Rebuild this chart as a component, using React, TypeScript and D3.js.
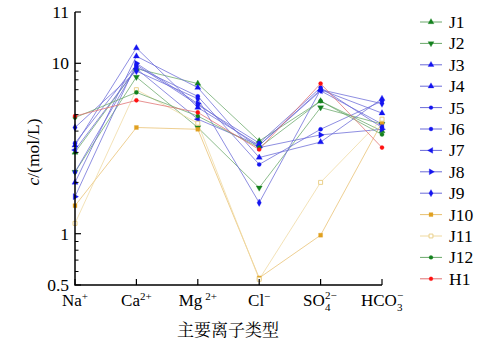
import React from "react";
import * as d3 from "d3";

// ion categories on the x axis
const ions = ["Na", "Ca", "Mg", "Cl", "SO4", "HCO3"];

// concentration per sample, same order as ions
const J1 = [3.0, 9.3, 7.6, 3.5, 6.0, 4.0];
const J2 = [2.3, 8.3, 4.2, 1.86, 5.5, 4.4];
const J3 = [3.3, 12.3, 5.5, 3.3, 7.0, 5.1];
const J4 = [2.0, 11.0, 7.2, 2.8, 3.45, 6.2];
const J5 = [3.4, 9.8, 5.7, 3.4, 7.2, 4.2];
const J6 = [2.3, 9.5, 6.4, 2.55, 4.1, 6.0];
const J7 = [3.1, 9.3, 4.7, 3.3, 6.9, 4.4];
const J8 = [1.65, 10.0, 5.8, 3.2, 3.8, 4.1];
const J9 = [4.2, 9.0, 6.2, 1.52, 7.0, 5.8];
const J10 = [1.46, 4.2, 4.1, 0.55, 0.98, 4.5];
const J11 = [1.15, 7.0, 4.45, 0.54, 2.0, 4.7];
const J12 = [4.8, 6.75, 4.9, 3.2, 6.0, 3.82];
const H1 = [4.9, 6.06, 5.15, 3.12, 7.6, 3.2];

const seriesNames = ["J1", "J2", "J3", "J4", "J5", "J6", "J7", "J8", "J9", "J10", "J11", "J12", "H1"];
const seriesValues = [J1, J2, J3, J4, J5, J6, J7, J8, J9, J10, J11, J12, H1];

// y ticks (the top one is labelled 11 in the original figure)
const yTickValues = [0.5, 1, 10, 20];
const yTickLabels = ["0.5", "1", "10", "11"];
const yMinorTicks = [0.6, 0.7, 0.8, 0.9, 2, 3, 4, 5, 6, 7, 8, 9];

const GREEN = "#14821e";
const BLUE = "#1414f0";
const styles = [
  { color: GREEN, line: "#6aa86a", sym: d3.symbolTriangle, rot: 0, fill: true },
  { color: GREEN, line: "#6aa86a", sym: d3.symbolTriangle, rot: 180, fill: true },
  { color: BLUE, line: "#6a6ad8", sym: d3.symbolTriangle, rot: 0, fill: true },
  { color: BLUE, line: "#6a6ad8", sym: d3.symbolTriangle, rot: 0, fill: true },
  { color: BLUE, line: "#6a6ad8", sym: d3.symbolCircle, rot: 0, fill: true },
  { color: BLUE, line: "#6a6ad8", sym: d3.symbolCircle, rot: 0, fill: true },
  { color: BLUE, line: "#6a6ad8", sym: d3.symbolTriangle, rot: 270, fill: true },
  { color: BLUE, line: "#6a6ad8", sym: d3.symbolTriangle, rot: 90, fill: true },
  { color: BLUE, line: "#6a6ad8", sym: d3.symbolDiamond, rot: 0, fill: true },
  { color: "#e0a020", line: "#e8c070", sym: d3.symbolSquare, rot: 0, fill: true },
  { color: "#e8cc80", line: "#efd9a0", sym: d3.symbolSquare, rot: 0, fill: false },
  { color: GREEN, line: "#6aa86a", sym: d3.symbolCircle, rot: 0, fill: true },
  { color: "#ff1010", line: "#e07070", sym: d3.symbolCircle, rot: 0, fill: true },
];

const width = 492;
const height = 343;
const serif = { fontFamily: "Liberation Serif" };

const x = d3.scalePoint().domain(ions).range([75, 382]).padding(0);
const y = d3.scaleLog().domain([0.5, 20]).range([285, 12]);
const line = d3
  .line<number>()
  .x((d, i) => x(ions[i]))
  .y((d) => y(d));

const Marker = ({ st, cx, cy, size }) => (
  <path
    d={d3.symbol().type(st.sym).size(size)()}
    transform={`translate(${cx},${cy}) rotate(${st.rot})`}
    fill={st.fill ? st.color : "white"}
    stroke={st.color}
    strokeWidth={st.fill ? 0.3 : 0.9}
  />
);

const base = 306;

const App = () => {
  return (
    <svg width={width} height={height} style={{ position: "absolute", left: 0, top: 0, background: "#fff" }}>
      {/* lines */}
      {seriesValues.map((vals, k) => (
        <path key={"l" + k} d={line(vals)} fill="none" stroke={styles[k].line} strokeWidth={0.9} strokeOpacity={0.85} />
      ))}
      {/* markers */}
      {seriesValues.map((vals, k) =>
        vals.map((v, i) => (
          <Marker
            key={"m" + k + "-" + i}
            st={styles[k]}
            cx={x(ions[i])}
            cy={y(v)}
            size={styles[k].sym === d3.symbolCircle ? 13 : 16}
          />
        ))
      )}

      {/* axes */}
      <g stroke="#000" fill="none">
        <path d={`M75,${y(20)}V285H382`} strokeWidth={1.5} />
        {yTickValues.map((v) => (
          <line key={"t" + v} x1={75} x2={81} y1={y(v)} y2={y(v)} strokeWidth={1.2} />
        ))}
        {yMinorTicks.map((v) => (
          <line key={"mt" + v} x1={75} x2={78.5} y1={y(v)} y2={y(v)} strokeWidth={1} />
        ))}
        {ions.map((c) => (
          <line key={"xt" + c} x1={x(c)} x2={x(c)} y1={285} y2={279} strokeWidth={1.2} />
        ))}
      </g>

      <g fill="#000" style={serif}>
        {yTickValues.map((v, i) => (
          <text key={"yl" + v} x={69} y={y(v) + 6} textAnchor="end" fontSize={17.5} style={serif}>
            {yTickLabels[i]}
          </text>
        ))}

        <text x={x("Na")} y={base} textAnchor="middle" fontSize={17} style={serif}>
          Na<tspan fontSize={11} dy={-6}>+</tspan>
        </text>
        <text x={x("Ca")} y={base} textAnchor="middle" fontSize={17} style={serif}>
          Ca<tspan fontSize={11} dy={-6}>2+</tspan>
        </text>
        <text x={x("Mg")} y={base} textAnchor="middle" fontSize={17} style={serif}>
          Mg<tspan fontSize={11} dy={-6} dx={3}>2+</tspan>
        </text>
        <text x={x("Cl")} y={base} textAnchor="middle" fontSize={17} style={serif}>
          Cl<tspan fontSize={11} dy={-6}>−</tspan>
        </text>

        <text x={303} y={base} fontSize={17} style={serif}>SO</text>
        <text x={325} y={base - 7} fontSize={11} style={serif}>2−</text>
        <text x={325} y={base + 5} fontSize={11} style={serif}>4</text>

        <text x={361} y={base} fontSize={17} style={serif}>HCO</text>
        <text x={397} y={base - 7} fontSize={11} style={serif}>−</text>
        <text x={397} y={base + 5} fontSize={11} style={serif}>3</text>

        <text x={228} y={336} textAnchor="middle" fontSize={17} style={{ fontFamily: "Noto Serif CJK SC" }}>
          主要离子类型
        </text>

        <text transform="translate(39,152) rotate(-90)" textAnchor="middle" fontSize={17.5} style={serif}>
          <tspan fontStyle="italic">c</tspan>/(mol/L)
        </text>
      </g>

      {/* legend */}
      {seriesNames.map((name, k) => {
        const st = styles[k];
        const ly = 22 + k * 21.4;
        return (
          <g key={"lg" + name}>
            <line x1={420} x2={442} y1={ly} y2={ly} stroke={st.line} strokeWidth={1} />
            <Marker st={st} cx={431} cy={ly} size={st.sym === d3.symbolCircle ? 12 : 15} />
            <text x={449} y={ly + 6} fontSize={17.5} style={serif}>
              {name}
            </text>
          </g>
        );
      })}
    </svg>
  );
};

export default App;
